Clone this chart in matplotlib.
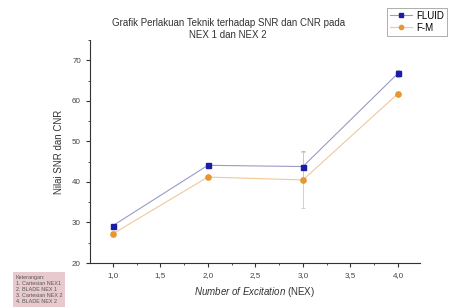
import numpy as np
import matplotlib.pyplot as plt
from matplotlib.ticker import MultipleLocator, FuncFormatter

nex = [1.0, 2.0, 3.0, 4.0]
fluid = [29.2, 44.1, 43.8, 66.8]
fluid_err = [0.5, 0.6, 3.8, 0.8]
fm = [27.2, 41.2, 40.5, 61.8]
fm_err = [0.4, 0.4, 7.0, 0.5]

title = "Grafik Perlakuan Teknik terhadap SNR dan CNR pada\nNEX 1 dan NEX 2"
keterangan = ["Keterangan:", "1. Cartesian NEX1", "2. BLADE NEX 1",
              "3. Cartesian NEX 2", "4. BLADE NEX 2"]

plt.rcParams["font.family"] = ["Liberation Sans", "DejaVu Sans"]
plt.rcParams["mathtext.fontset"] = "custom"
plt.rcParams["mathtext.rm"] = "Liberation Sans"
plt.rcParams["mathtext.it"] = "Liberation Sans:italic"

fig = plt.figure(figsize=(4.52, 3.08), dpi=100)
ax = fig.add_axes([0.199, 0.146, 0.73, 0.724])

# error bars first, then lines with markers
ax.errorbar(nex, fluid, yerr=fluid_err, fmt="none", ecolor="#b0b0c8",
            elinewidth=0.6, capsize=1.5, capthick=0.6, zorder=2)
ax.errorbar(nex, fm, yerr=fm_err, fmt="none", ecolor="#d8c8b0",
            elinewidth=0.6, capsize=1.5, capthick=0.6, zorder=2)
l1, = ax.plot(nex, fluid, color="#9a9ac8", lw=0.8, marker="s", ms=3.6,
              mfc="#1c1ca8", mec="#1c1ca8", label="FLUID", zorder=3)
l2, = ax.plot(nex, fm, color="#f0c89a", lw=0.8, marker="o", ms=3.8,
              mfc="#e8962e", mec="#e8962e", label="F-M", zorder=3)

ax.set_xlim(0.76, 4.23)
ax.set_ylim(20, 75)
ax.xaxis.set_major_locator(MultipleLocator(0.5))
ax.xaxis.set_minor_locator(MultipleLocator(0.25))
ax.yaxis.set_major_locator(MultipleLocator(10))
ax.yaxis.set_minor_locator(MultipleLocator(5))
ax.xaxis.set_major_formatter(FuncFormatter(lambda v, p: f"{v:.1f}".replace(".", ",")))
ax.set_yticks([20, 30, 40, 50, 60, 70])

for s in ["top", "right"]:
    ax.spines[s].set_visible(False)
for s in ["left", "bottom"]:
    ax.spines[s].set_color("#333333")
    ax.spines[s].set_linewidth(0.8)
ax.tick_params(which="major", direction="out", length=3, width=0.8,
               labelsize=5.8, labelcolor="#444444", color="#333333")
ax.tick_params(which="minor", direction="out", length=1.5, width=0.6, color="#333333")

ax.set_ylabel("Nilai SNR dan CNR", fontsize=7, color="#333333", labelpad=6)
ax.set_xlabel(r"$\it{Number\ of\ Excitation}$ (NEX)", fontsize=7, color="#333333")
fig.text(0.505, 0.905, title, ha="center", va="center", fontsize=7, color="#333333")

leg = fig.legend(handles=[l1, l2], loc="upper right", bbox_to_anchor=(1.0, 0.99),
                 fontsize=7, frameon=True, fancybox=False, edgecolor="#888888",
                 handlelength=2.3, handletextpad=0.4, borderpad=0.3,
                 labelspacing=0.2, markerscale=0.8)
leg.get_frame().set_linewidth(0.6)

fig.text(0.035, 0.06, "\n".join(keterangan), fontsize=3.9, color="#555555",
         va="center", ha="left", linespacing=1.25,
         bbox=dict(boxstyle="square,pad=0.5", fc="#e8cace", ec="none"))

fig.savefig("out.png", dpi=100)
